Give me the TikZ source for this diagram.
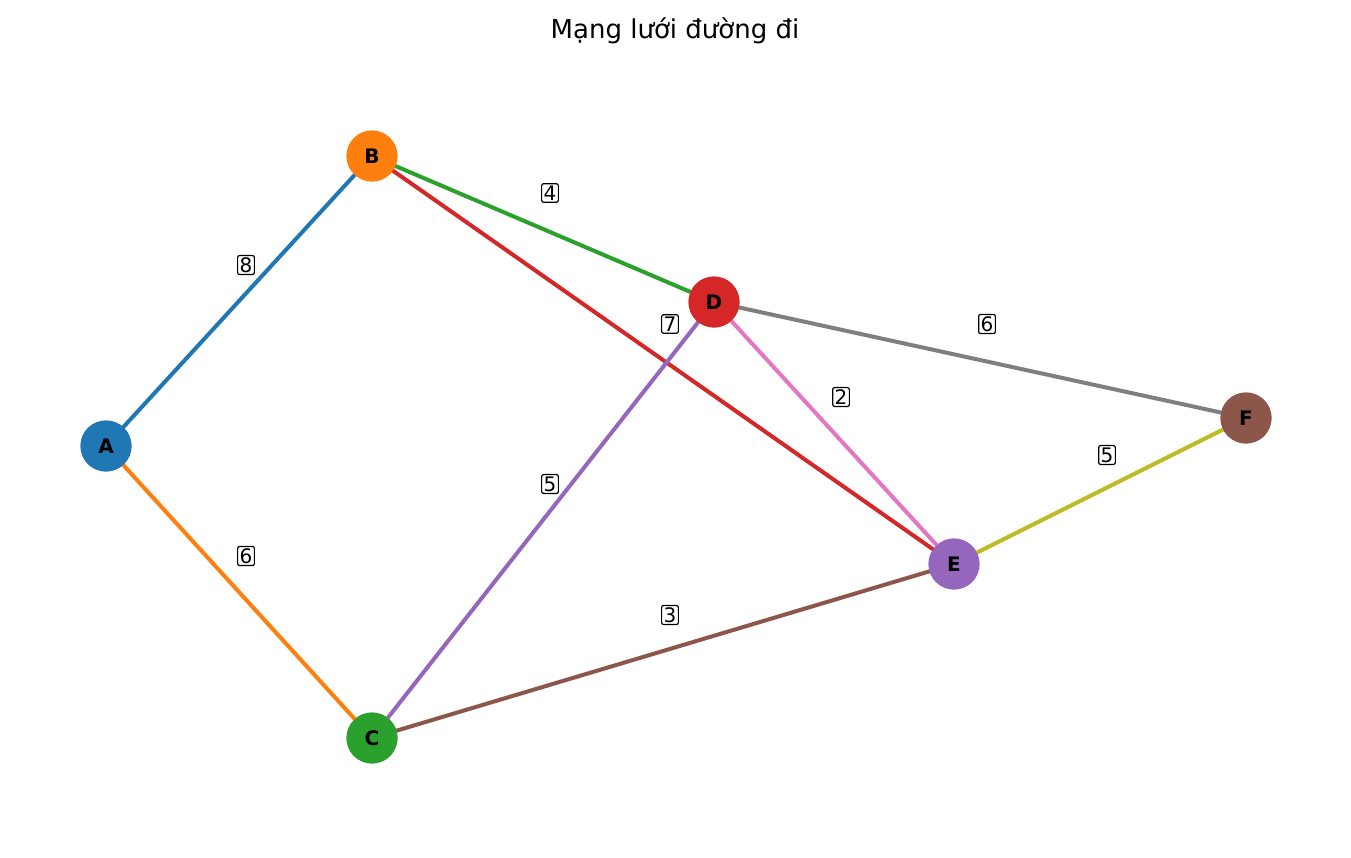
\documentclass[tikz,border=0pt]{standalone}
\usepackage{fontspec}
\setmainfont{DejaVu Sans}
\usetikzlibrary{calc}
\definecolor{tabblue}{HTML}{1F77B4}
\definecolor{taborange}{HTML}{FF7F0E}
\definecolor{tabgreen}{HTML}{2CA02C}
\definecolor{tabred}{HTML}{D62728}
\definecolor{tabpurple}{HTML}{9467BD}
\definecolor{tabbrown}{HTML}{8C564B}
\definecolor{tabpink}{HTML}{E377C2}
\definecolor{tabgray}{HTML}{7F7F7F}
\definecolor{tabolive}{HTML}{BCBD22}

\begin{document}
\begin{tikzpicture}[x=1pt, y=-1pt,
    vertex/.style={circle, minimum size=51pt, inner sep=0pt, font=\fontsize{20}{24}\selectfont\bfseries},
    road/.style={line width=4pt},
    weight/.style={fill=white, draw=black, line width=1.2pt, rounded corners=2pt, inner sep=2pt, font=\fontsize{20}{24}\selectfont}]
    \useasboundingbox (0,0) rectangle (1351,857);

    \node[font=\fontsize{26}{30}\selectfont] (title) at (675,31) {Mạng lưới đường đi};

    \node[vertex, fill=tabblue] (A) at (106,446) {A};
    \node[vertex, fill=taborange] (B) at (372,156) {B};
    \node[vertex, fill=tabgreen] (C) at (372,738) {C};
    \node[vertex, fill=tabred] (D) at (714,302) {D};
    \node[vertex, fill=tabpurple] (E) at (954,564) {E};
    \node[vertex, fill=tabbrown] (F) at (1246,418) {F};

    \begin{scope}[on background layer/.style={}]
    \foreach \u/\v/\c in {A/B/tabblue, A/C/taborange, B/D/tabgreen, B/E/tabred, C/D/tabpurple,
                          C/E/tabbrown, D/E/tabpink, D/F/tabgray, E/F/tabolive}
        \draw[road, \c] (\u.center) -- (\v.center);
    \end{scope}

    % redraw vertices above the roads
    \node[vertex, fill=tabblue] at (A) {A};
    \node[vertex, fill=taborange] at (B) {B};
    \node[vertex, fill=tabgreen] at (C) {C};
    \node[vertex, fill=tabred] at (D) {D};
    \node[vertex, fill=tabpurple] at (E) {E};
    \node[vertex, fill=tabbrown] at (F) {F};

    \foreach \u/\v/\w in {A/B/8, A/C/6, B/D/4, B/E/7, C/D/5, C/E/3, D/E/2, D/F/6, E/F/5}
        \node[weight] (w\u\v) at ($(\u)!0.5!(\v)+(7,-36)$) {\w};
\end{tikzpicture}
\end{document}
